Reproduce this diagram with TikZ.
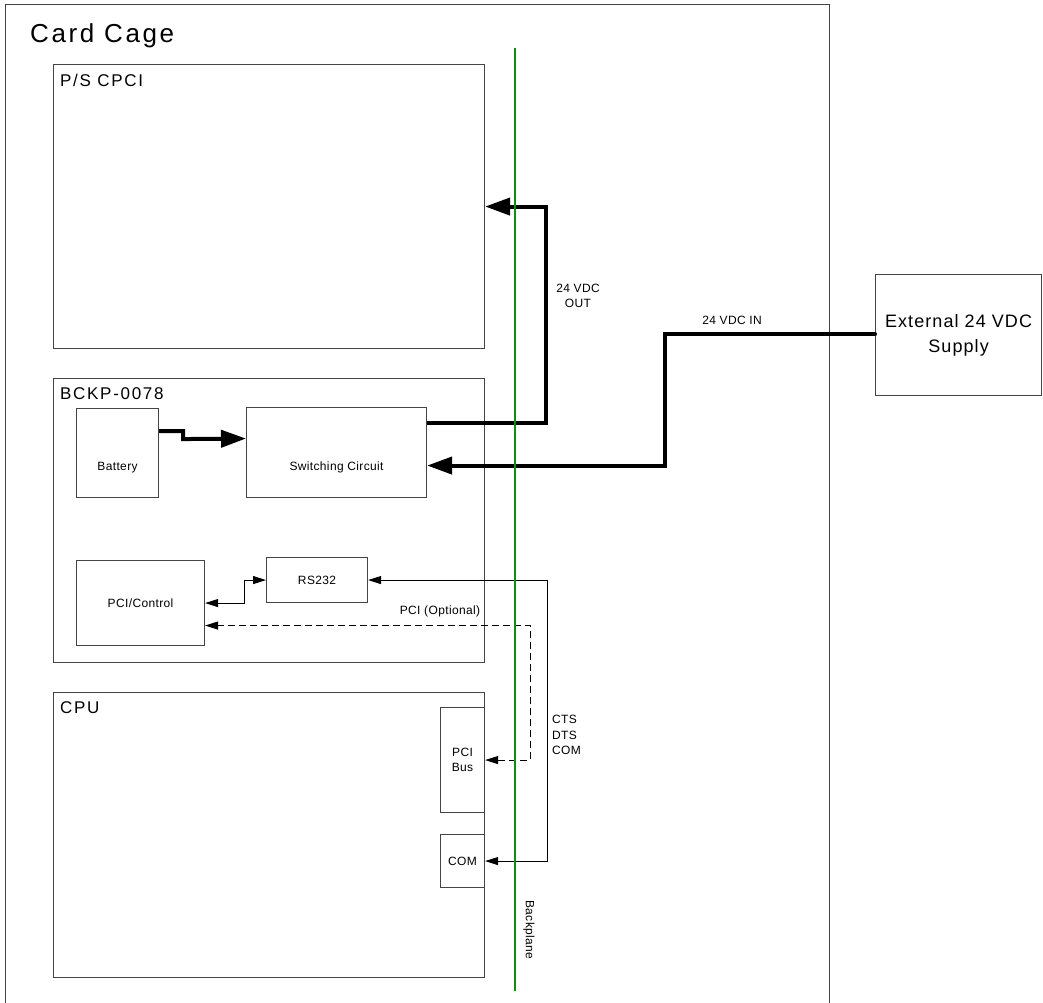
\documentclass[tikz,border=0pt]{standalone}
\usepackage{fontspec}
\setmainfont{Liberation Sans}
\newfontfamily\capfont[LetterSpace=10]{Liberation Sans}
\newfontfamily\extfont[LetterSpace=6]{Liberation Sans}
\newfontfamily\txtfont[LetterSpace=3]{Liberation Sans}
\usetikzlibrary{arrows.meta,positioning}
\definecolor{bpgreen}{RGB}{20,140,20}
\definecolor{edge}{HTML}{444444}

\begin{document}
\begin{tikzpicture}[x=1pt,y=-1pt,
  box/.style={draw=edge,line width=1.1pt,anchor=north west,inner sep=0pt},
  cardcap/.style={anchor=base west,inner sep=0pt,font=\capfont\fontsize{17}{20}\selectfont},
  txt/.style={inner sep=0pt,align=center,font=\txtfont\fontsize{12}{15.5}\selectfont},
  power/.style={line width=4pt,-{Triangle[length=25pt,width=17pt]}},
  sig/.style={line width=1pt,{Triangle[length=13pt,width=8pt]}-{Triangle[length=13pt,width=8pt]}},
  bus/.style={sig,dash pattern=on 7pt off 4pt}]
  \useasboundingbox (0,0) rectangle (1043,1002);
  \fill[white] (0,0) rectangle (1043,1002);
  \clip (0,0) rectangle (1043,1002);

  % card cage and the three cards
  \node[box,minimum width=824pt,minimum height=1030pt] (cage) at (5,4) {};
  \node[anchor=base west,inner sep=0pt,font=\capfont\fontsize{26}{30}\selectfont] (cagelbl) at (30,42) {Card Cage};
  \node[box,minimum width=431pt,minimum height=284pt] (ps) at (53,64) {};
  \node[cardcap] (pslbl) at ([xshift=7pt,yshift=-22pt]ps.north west) {P/S CPCI};
  \node[box,minimum width=431pt,minimum height=284pt] (bckp) at (53,378) {};
  \node[cardcap] (bckplbl) at ([xshift=7pt,yshift=-21pt]bckp.north west) {BCKP-0078};
  \node[box,minimum width=431pt,minimum height=285pt] (cpu) at (53,692) {};
  \node[cardcap] (cpulbl) at ([xshift=7pt,yshift=-21pt]cpu.north west) {CPU};

  % parts of BCKP-0078
  \node[box,minimum width=82pt,minimum height=89pt] (bat) at (76,408) {};
  \node[txt] (battxt) at ([yshift=-15pt]bat.center) {Battery};
  \node[box,minimum width=180pt,minimum height=90pt] (sw) at (246,407) {};
  \node[txt] (swtxt) at ([yshift=-15pt]sw.center) {Switching Circuit};
  \node[box,minimum width=128pt,minimum height=85pt] (pcic) at (76,560) {};
  \node[txt] (pcictxt) at (pcic.center) {PCI/Control};
  \node[box,minimum width=101pt,minimum height=45pt] (rs) at (266,557) {};
  \node[txt] (rstxt) at (rs.center) {RS232};

  % parts of CPU
  \node[box,minimum width=44pt,minimum height=105pt] (pcibus) at (440,707) {};
  \node[txt] (pcibustxt) at (pcibus.center) {PCI\\Bus};
  \node[box,minimum width=44pt,minimum height=53pt] (com) at (440,834) {};
  \node[txt] (comtxt) at (com.center) {COM};

  % outside
  \node[box,minimum width=166pt,minimum height=121pt] (ext) at (875,274) {};
  \node[inner sep=0pt,align=center,font=\extfont\fontsize{18}{25}\selectfont] (exttxt) at (ext.center) {External 24 VDC\\Supply};

  % power
  \draw[power] ([yshift=22pt]bat.east) -| ++(24,8) -- ([yshift=14pt]sw.west);
  \draw[power] ([yshift=30pt]sw.east) -- ++(119,0) |- (ps.east);
  \draw[power,line cap=round] ([yshift=1pt]ext.west) -- ++(-210,0) |- ([yshift=-13pt]sw.east);
  \node[txt] (outlbl) at (578,296) {24 VDC\\OUT};
  \node[txt] (inlbl) at (732,320) {24 VDC IN};

  % signals
  \draw[sig] (pcic.east) -- ++(39,0) |- (rs.west);
  \draw[sig] (com.east) -- ++(62,0) |- (rs.east);
  \draw[bus] (pcibus.east) -- ++(45,0) |- ([yshift=-22.5pt]pcic.east);
  \node[txt] (optlbl) at (440,611) {PCI (Optional)};
  \node[txt,anchor=north west,align=left] (ctslbl) at (552,715) {CTS\\DTS\\COM};

  % backplane
  \coordinate (bptop) at (515,48);
  \coordinate (bpbot) at (515,991);
  \draw[bpgreen,line width=1.8pt] (bptop) -- (bpbot);
  \node[txt,rotate=-90] (bplbl) at (529,930) {Backplane};
\end{tikzpicture}
\end{document}
